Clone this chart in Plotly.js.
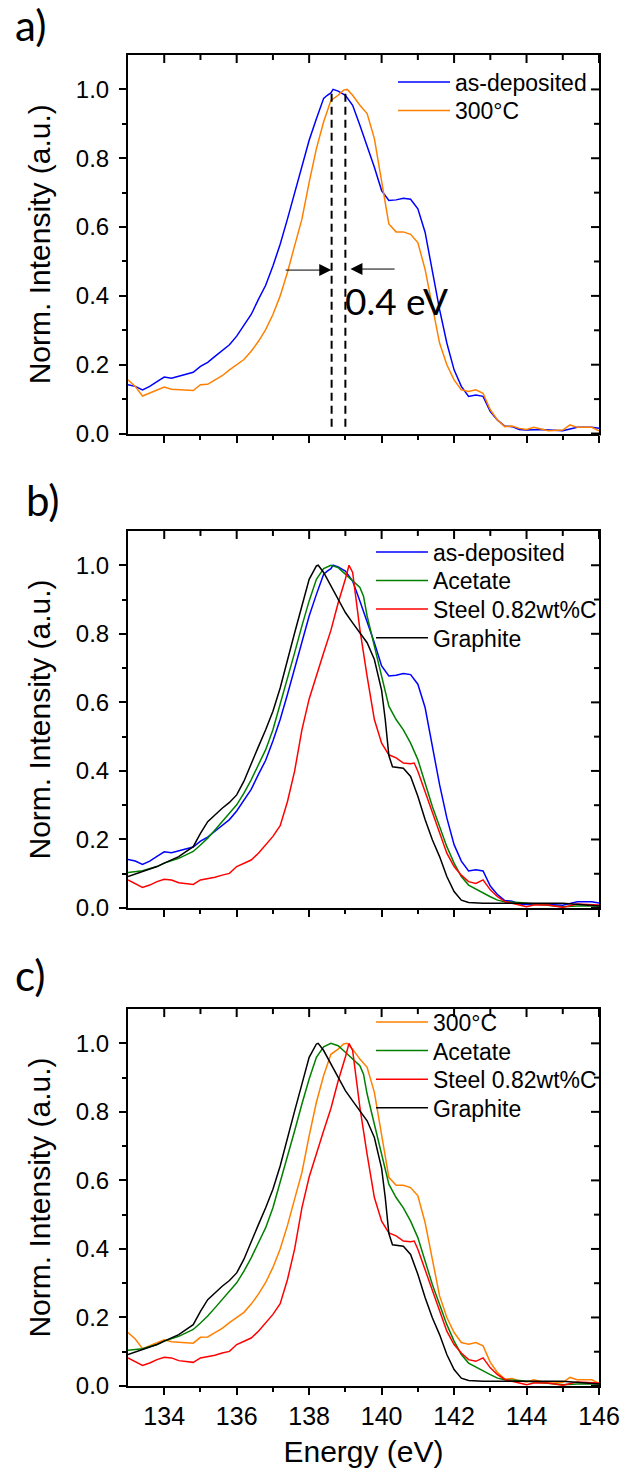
<!DOCTYPE html>
<html><head><meta charset="utf-8">
<script src="https://cdn.plot.ly/plotly-3.0.1.min.js"></script>
<style>html,body{margin:0;padding:0;background:#fff}</style>
</head><body>
<div id="chart" style="width:624px;height:1475px"></div>
<script>
// ---- data ----
const asDepX = [133,133.2,133.4,133.6,133.8,134,134.2,134.4,134.6,134.8,135,135.2,135.4,135.6,135.8,136,136.2,136.4,136.6,136.8,137,137.2,137.4,137.6,137.8,138,138.2,138.4,138.5,138.6,138.66,138.8,139,139.1,139.2,139.4,139.6,139.8,140,140.2,140.4,140.6,140.8,141,141.2,141.4,141.6,141.8,142,142.2,142.4,142.6,142.8,143,143.2,143.4,143.6,143.8,144,144.4,144.8,145,145.4,145.8,146];
const asDepY = [0.142,0.137,0.127,0.137,0.151,0.164,0.161,0.166,0.173,0.178,0.195,0.207,0.224,0.242,0.258,0.283,0.314,0.346,0.390,0.431,0.487,0.55,0.623,0.701,0.774,0.852,0.915,0.974,0.983,0.99,1.0,0.995,0.983,0.968,0.954,0.896,0.837,0.774,0.706,0.677,0.679,0.684,0.681,0.653,0.585,0.468,0.360,0.263,0.185,0.137,0.108,0.112,0.108,0.064,0.039,0.022,0.020,0.012,0.010,0.012,0.010,0.008,0.018,0.018,0.015];
const t300X = [133,133.2,133.4,133.6,133.8,134,134.2,134.4,134.6,134.8,135,135.2,135.4,135.6,135.8,136,136.2,136.4,136.6,136.8,137,137.2,137.4,137.6,137.8,138,138.2,138.4,138.6,138.8,138.95,139.05,139.2,139.4,139.6,139.8,140,140.2,140.4,140.6,140.8,141,141.2,141.4,141.6,141.8,142,142.2,142.4,142.6,142.8,143,143.2,143.4,143.6,143.8,144,144.2,144.6,145,145.2,145.4,145.8,146];
const t300Y = [0.156,0.137,0.109,0.117,0.127,0.135,0.129,0.127,0.125,0.125,0.142,0.143,0.156,0.168,0.185,0.200,0.215,0.239,0.268,0.302,0.346,0.400,0.468,0.546,0.623,0.730,0.828,0.906,0.968,0.983,0.998,1.0,0.983,0.954,0.930,0.857,0.730,0.609,0.586,0.586,0.579,0.555,0.477,0.370,0.263,0.200,0.156,0.127,0.122,0.127,0.117,0.069,0.039,0.020,0.022,0.015,0.012,0.018,0.008,0.010,0.025,0.018,0.018,0.008];
const acetateX = [133,133.4,133.8,134,134.4,134.8,135,135.2,135.4,135.6,135.8,136,136.2,136.4,136.6,136.8,137,137.2,137.4,137.6,137.8,138,138.2,138.4,138.6,138.8,139,139.2,139.4,139.5,139.6,139.8,140,140.2,140.4,140.6,140.8,141,141.2,141.4,141.6,141.8,142,142.2,142.4,142.6,142.8,143,143.2,143.4,143.8,144.2,144.6,145,145.4,146];
const acetateY = [0.104,0.109,0.121,0.131,0.145,0.165,0.184,0.204,0.228,0.252,0.277,0.301,0.335,0.374,0.418,0.462,0.520,0.594,0.667,0.745,0.823,0.896,0.959,0.990,1.0,0.993,0.974,0.954,0.935,0.910,0.852,0.764,0.676,0.589,0.550,0.520,0.481,0.433,0.365,0.296,0.238,0.179,0.131,0.092,0.067,0.055,0.045,0.033,0.023,0.018,0.016,0.012,0.009,0.004,0.006,0.006];
const steelX = [133,133.2,133.4,133.6,133.8,134,134.2,134.4,134.6,134.8,135,135.2,135.4,135.6,135.8,136,136.2,136.4,136.6,136.8,137,137.2,137.4,137.6,137.8,138,138.2,138.4,138.6,138.8,139,139.1,139.2,139.4,139.6,139.8,140,140.2,140.4,140.6,140.8,140.9,141,141.2,141.4,141.6,141.8,142,142.2,142.4,142.6,142.8,143,143.2,143.4,143.6,144,144.2,144.6,145,145.4,146];
const steelY = [0.082,0.070,0.060,0.067,0.077,0.084,0.082,0.074,0.072,0.069,0.082,0.085,0.090,0.096,0.101,0.121,0.131,0.140,0.160,0.184,0.209,0.24,0.31,0.40,0.52,0.61,0.68,0.745,0.81,0.89,0.96,1.0,0.979,0.813,0.676,0.550,0.481,0.447,0.438,0.423,0.421,0.423,0.399,0.340,0.282,0.218,0.160,0.121,0.096,0.077,0.072,0.082,0.053,0.033,0.019,0.014,0.004,0.009,0.009,0.002,0.012,0.009];
const graphiteX = [133,133.4,133.8,134,134.4,134.8,135,135.2,135.4,135.6,135.8,136,136.2,136.4,136.6,136.8,137,137.2,137.4,137.6,137.8,138,138.2,138.25,138.4,138.6,138.8,139,139.2,139.4,139.6,139.8,140,140.1,140.2,140.3,140.6,140.8,141,141.2,141.4,141.6,141.8,142,142.2,142.4,142.8,143.4,144,145,146];
const graphiteY = [0.092,0.106,0.121,0.131,0.150,0.179,0.218,0.252,0.272,0.291,0.308,0.330,0.370,0.423,0.471,0.520,0.574,0.642,0.725,0.803,0.881,0.959,0.998,1.0,0.979,0.940,0.901,0.862,0.832,0.803,0.774,0.725,0.635,0.550,0.445,0.412,0.408,0.384,0.326,0.258,0.199,0.150,0.092,0.048,0.023,0.016,0.014,0.014,0.014,0.014,0.006];

// peak positions marked in panel a (dashed lines) and the shift label
const peakX = [138.62, 139.0];
const peakLineY = [0.02, 1.0];
const shiftLabel = '0.4 eV';

const xTickVals = [134,136,138,140,142,144,146];
const xMinorVals = [135,137,139,141,143,145];
const yTickVals = [0.0,0.2,0.4,0.6,0.8,1.0];
const yMinorVals = [0.1,0.3,0.5,0.7,0.9];

// ---- styling ----
const C = {asdep:'#0000ff', t300:'#ff8000', acetate:'#008000', steel:'#ff0000', graphite:'#000000'};
const LW = 1.5;
const FONT = 'Liberation Sans, Arial, sans-serif';
const CAL = 'Lato, Carlito, Calibri, sans-serif';

function tr(x, y, name, color, xa, ya, leg){
  return {x:x, y:y, name:name, type:'scatter', mode:'lines', xaxis:xa, yaxis:ya,
          legend:leg, showlegend:true, line:{color:color, width:LW}, hoverinfo:'skip'};
}

const data = [
  tr(asDepX, asDepY, 'as-deposited', C.asdep, 'x', 'y', 'legend'),
  tr(t300X, t300Y, '300°C', C.t300, 'x', 'y', 'legend'),
  tr(asDepX, asDepY, 'as-deposited', C.asdep, 'x2', 'y2', 'legend2'),
  tr(acetateX, acetateY, 'Acetate', C.acetate, 'x2', 'y2', 'legend2'),
  tr(steelX, steelY, 'Steel 0.82wt%C', C.steel, 'x2', 'y2', 'legend2'),
  tr(graphiteX, graphiteY, 'Graphite', C.graphite, 'x2', 'y2', 'legend2'),
  tr(t300X, t300Y, '300°C', C.t300, 'x3', 'y3', 'legend3'),
  tr(acetateX, acetateY, 'Acetate', C.acetate, 'x3', 'y3', 'legend3'),
  tr(steelX, steelY, 'Steel 0.82wt%C', C.steel, 'x3', 'y3', 'legend3'),
  tr(graphiteX, graphiteY, 'Graphite', C.graphite, 'x3', 'y3', 'legend3')
];
peakX.forEach(function(px){
  data.push({x:[px,px], y:peakLineY, type:'scatter', mode:'lines', xaxis:'x', yaxis:'y',
    showlegend:false, hoverinfo:'skip', line:{color:'#000', width:2, dash:'8px,5px'}});
});

const XR = [133,146], YR = [0,1.1];
const tickFont = {family:FONT, size:25, color:'#000'};
const yTickFont = {family:FONT, size:24, color:'#000'};
const titleFont = {family:FONT, size:30, color:'#000'};

function xAxis(anchor, labels){
  const a = {type:'linear', range:XR, anchor:anchor, domain:[0,1], showgrid:false, zeroline:false,
    showline:true, linewidth:2, linecolor:'#000', ticks:'outside', ticklen:7, tickwidth:2, tickcolor:'#000',
    tickvals:xTickVals, showticklabels:labels, tickfont:tickFont, ticklabelstandoff:0,
    minor:{tickvals:xMinorVals, ticks:'outside', ticklen:4, tickwidth:2, tickcolor:'#000'}};
  if(labels){ a.title = {text:'Energy (eV)', font:titleFont, standoff:12}; }
  return a;
}
function yAxis(anchor, dom){
  return {type:'linear', range:YR, anchor:anchor, domain:dom, showgrid:false, zeroline:false,
    showline:true, linewidth:2, linecolor:'#000', ticks:'outside', ticklen:7, tickwidth:2, tickcolor:'#000',
    tickvals:yTickVals, tickformat:'.1f', tickfont:yTickFont, ticklabelstandoff:5,
    minor:{tickvals:yMinorVals, ticks:'outside', ticklen:4, tickwidth:2, tickcolor:'#000'},
    title:{text:'Norm. Intensity (a.u.)', font:titleFont, standoff:16}};
}

const legBase = {bgcolor:'rgba(0,0,0,0)', borderwidth:0, font:{family:FONT, size:23, color:'#000'},
  tracegroupgap:0, xanchor:'left', yanchor:'top', itemclick:false, itemdoubleclick:false};

const layout = {
  width:624, height:1475,
  margin:{l:128, r:25, t:55, b:89},
  paper_bgcolor:'#fff', plot_bgcolor:'#fff',
  font:{family:FONT, color:'#000'},
  xaxis: xAxis('y', false), xaxis2: xAxis('y2', false), xaxis3: xAxis('y3', true),
  yaxis: yAxis('x', [0.7156, 1.0]), yaxis2: yAxis('x2', [0.3591, 0.6424]), yaxis3: yAxis('x3', [0, 0.2832]),
  legend: Object.assign({}, legBase, {x:0.58, y:0.9959}),
  legend2: Object.assign({}, legBase, {x:0.5626, y:0.6428}),
  legend3: Object.assign({}, legBase, {x:0.5626, y:0.2896}),
  showlegend:true,
  annotations:[
    {text:'a)', xref:'paper', yref:'paper', x:-0.206, y:1.0225, showarrow:false, xanchor:'center', yanchor:'middle', font:{family:CAL, size:42, color:'#000'}},
    {text:'b)', xref:'paper', yref:'paper', x:-0.180, y:0.6657, showarrow:false, xanchor:'center', yanchor:'middle', font:{family:CAL, size:42, color:'#000'}},
    {text:'c)', xref:'paper', yref:'paper', x:-0.208, y:0.3088, showarrow:false, xanchor:'center', yanchor:'middle', font:{family:CAL, size:42, color:'#000'}},
    {text:shiftLabel, xref:'x', yref:'y', x:140.42, y:0.387, showarrow:false, xanchor:'center', yanchor:'middle', font:{family:CAL, size:37, color:'#000'}},
    {text:'', xref:'x', yref:'y', x:peakX[0]-0.01, y:0.475, axref:'x', ayref:'y', ax:137.31, ay:0.475,
     showarrow:true, arrowhead:2, arrowsize:2.4, arrowwidth:1, arrowcolor:'#000', standoff:0},
    {text:'', xref:'x', yref:'y', x:peakX[1]+0.14, y:0.478, axref:'x', ayref:'y', ax:140.4, ay:0.478,
     showarrow:true, arrowhead:2, arrowsize:2.4, arrowwidth:1, arrowcolor:'#000', standoff:0}
  ]
};

// Origin-style frame: top/right edges with inward ticks, placed through the axes' own scales
function drawFrames(gd){
  const fl = gd._fullLayout;
  const svg = gd.querySelector('svg.main-svg');
  if(!svg) return;
  const NS = 'http://www.w3.org/2000/svg';
  const g = document.createElementNS(NS, 'g');
  g.setAttribute('class', 'origin-frame');
  function ln(x1, y1, x2, y2){
    const l = document.createElementNS(NS, 'line');
    l.setAttribute('x1', x1); l.setAttribute('y1', y1);
    l.setAttribute('x2', x2); l.setAttribute('y2', y2);
    l.setAttribute('stroke', '#000'); l.setAttribute('stroke-width', '2');
    l.setAttribute('stroke-linecap', 'square');
    g.appendChild(l);
  }
  [['xaxis','yaxis'],['xaxis2','yaxis2'],['xaxis3','yaxis3']].forEach(function(pair){
    const xa = fl[pair[0]], ya = fl[pair[1]];
    if(!xa || !ya) return;
    const left = xa._offset, right = xa._offset + xa._length;
    const top = ya._offset, bottom = ya._offset + ya._length;
    const T = top - 1, R = right + 1;
    ln(left - 1, T, R, T);          // top edge
    ln(R, T, R, bottom + 1);        // right edge
    xTickVals.forEach(function(v){ const px = xa._offset + xa.l2p(v); ln(px, T, px, T + 8); });
    xMinorVals.forEach(function(v){ const px = xa._offset + xa.l2p(v); ln(px, T, px, T + 5); });
    yTickVals.forEach(function(v){ const py = ya._offset + ya.l2p(v); ln(R, py, R - 8, py); });
    yMinorVals.forEach(function(v){ const py = ya._offset + ya.l2p(v); ln(R, py, R - 5, py); });
  });
  svg.appendChild(g);
}

function styleLegends(gd){
  const ROW = 28.6;
  const textStart = {legend:455, legend2:433, legend3:433};
  gd.querySelectorAll('.scrollbox').forEach(function(s){ s.removeAttribute('clip-path'); });
  gd.querySelectorAll('.legendlines path').forEach(function(p){ p.setAttribute('d','M-17,0h52'); });
  gd.querySelectorAll('.infolayer > g').forEach(function(lg){
    const items = lg.querySelectorAll('g.traces');
    if(!items.length) return;
    const cls = (lg.getAttribute('class')||'').split(' ')[0];
    let dx = 0;
    const t0 = items[0].querySelector('text.legendtext');
    if(t0 && textStart[cls] !== undefined){ dx = textStart[cls] - t0.getBoundingClientRect().left; }
    let x0 = null, y0 = null;
    items.forEach(function(it, i){
      const m = /translate\(\s*([-\d.e]+)[ ,]+([-\d.e]+)\s*\)/.exec(it.getAttribute('transform') || '');
      if(!m) return;
      if(i === 0){ x0 = +m[1] + dx; y0 = +m[2]; }
      it.setAttribute('transform', 'translate(' + x0 + ',' + (y0 + i*ROW) + ')');
    });
  });
}

Plotly.newPlot('chart', data, layout, {staticPlot:true, displayModeBar:false}).then(function(gd){
  try { drawFrames(gd); } catch(e) {}
  try { styleLegends(gd); } catch(e) {}
});
</script>
</body></html>
